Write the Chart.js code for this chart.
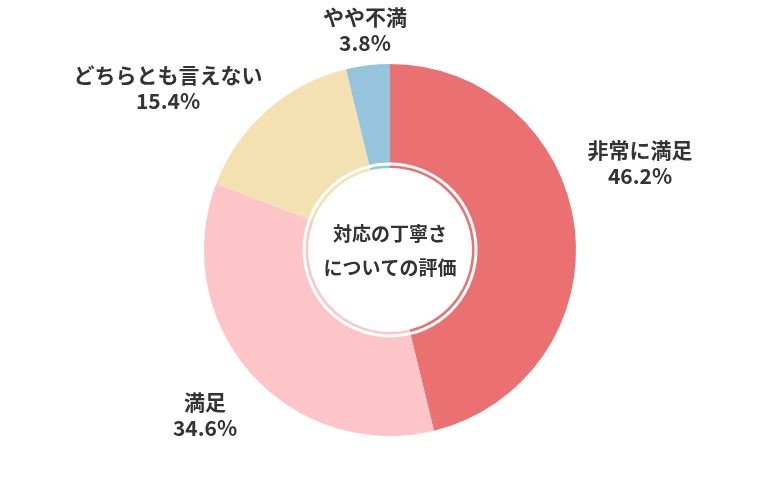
<!DOCTYPE html><html><head><meta charset="utf-8"><script src="https://cdn.jsdelivr.net/npm/chart.js@4"></script>
<style>html,body{margin:0;background:#fff}#w{width:780px;height:500px}</style></head><body><div id="w"><canvas id="c"></canvas></div>
<script>
const categories=['非常に満足','満足','どちらとも言えない','やや不満'];
const values=[46.2,34.6,15.4,3.8];
const colors=['#EB7072','#FDC5C7','#F4E1B2','#96C4DC'];
const centerLines=['対応の丁寧さ','についての評価'];
const labelPos=[[640,150],[205,402],[168,75],[365,17]];
const F='"Noto Sans CJK JP","Noto Sans",sans-serif';
const labels={id:'lbl',afterDraw(ch){const x=ch.ctx;x.save();x.fillStyle='#333';x.textAlign='center';x.textBaseline='middle';
 x.font='bold 21px '+F;
 categories.forEach((c,i)=>{const p=labelPos[i];x.fillText(c,p[0],p[1]);x.fillText(values[i].toFixed(1)+'%',p[0],p[1]+26);});
 const a=ch.getDatasetMeta(0).data[0];x.font='bold 19px '+F;
 x.fillText(centerLines[0],a.x,a.y-16);x.fillText(centerLines[1],a.x,a.y+18);x.restore();}};
new Chart(document.getElementById('c'),{type:'doughnut',
 data:{labels:categories,datasets:[
  {data:values,backgroundColor:colors,borderWidth:0,weight:98},
  {data:values,backgroundColor:'rgba(0,0,0,0)',borderWidth:0,weight:3},
  {data:values,backgroundColor:colors,borderWidth:0,weight:2.5}]},
 options:{responsive:true,maintainAspectRatio:false,animation:false,cutout:82,layout:{padding:64},
  plugins:{legend:{display:false},tooltip:{enabled:false}}},
 plugins:[labels]});
</script></body></html>
